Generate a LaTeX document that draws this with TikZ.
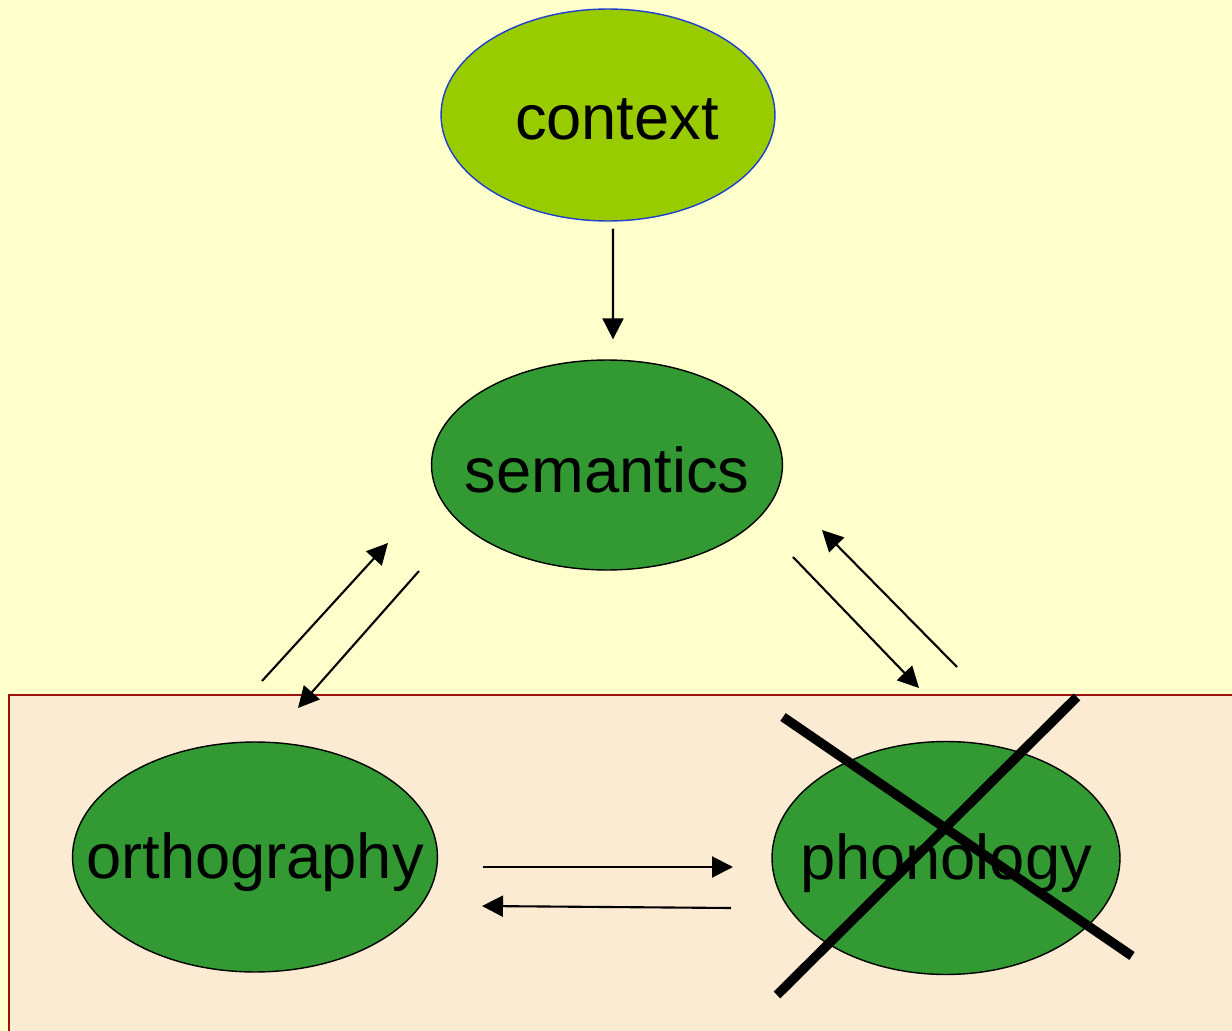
\documentclass[tikz,border=0pt]{standalone}
\usepackage{fontspec}
\setmainfont{Liberation Sans}
\usetikzlibrary{shapes.geometric,arrows.meta}

\definecolor{paleyellow}{HTML}{FFFFCC}
\definecolor{parchment}{HTML}{FAEBD2}
\definecolor{boxred}{HTML}{A01010}
\definecolor{lime}{HTML}{99CC00}
\definecolor{leaf}{HTML}{339933}
\definecolor{rim}{HTML}{1F3FCC}

\begin{document}
\begin{tikzpicture}[
    x=0.02cm, y=-0.02cm,
    blob/.style={ellipse, draw=black, fill=leaf, line width=0.8pt, inner sep=0pt,
      label={[font=\fontsize{36}{40}\selectfont, yshift=-0.1cm]center:#1}},
    arr/.style={line width=1.2pt, -{Triangle[length=0.42cm, width=0.42cm]}},
    cross/.style={line width=5.4pt}
  ]

  % page and lower panel
  \clip (0,0) rectangle (1232,1031);
  \fill[paleyellow] (0,0) rectangle (1232,1031);
  \draw[fill=parchment, draw=boxred, line width=1pt] (9,695) rectangle (1260,1060);

  % nodes
  \node[ellipse, fill=lime, draw=rim, line width=0.8pt, inner sep=0pt, minimum width=6.68cm, minimum height=4.24cm,
    label={[font=\fontsize{36}{40}\selectfont, xshift=0.18cm, yshift=-0.08cm]center:context}] (context) at (608,115) {};
  \node[blob=semantics, minimum width=7.02cm, minimum height=4.2cm] (semantics) at (607,465) {};
  \node[blob=orthography, minimum width=7.3cm, minimum height=4.6cm] (orthography) at (255,857) {};
  \node[blob=phonology, minimum width=6.96cm, minimum height=4.66cm] (phonology) at (946,858) {};

  % free arrow ends
  \coordinate (os1) at (262,681);
  \coordinate (os2) at (388,543);
  \coordinate (so1) at (419,571);
  \coordinate (so2) at (298,708);
  \coordinate (sp1) at (793,557);
  \coordinate (sp2) at (919,688);
  \coordinate (ps1) at (957,667);
  \coordinate (ps2) at (822,530);
  \coordinate (op1) at (483,867);
  \coordinate (op2) at (733,867);
  \coordinate (po1) at (731,908);
  \coordinate (po2) at (482,906);

  % connectors
  \draw[arr, shorten <=0.14cm, shorten >=0.4cm] ([xshift=0.1cm]context.south) -- ([xshift=0.12cm]semantics.north);
  \draw[arr] (os1) -- (os2);
  \draw[arr] (so1) -- (so2);
  \draw[arr] (sp1) -- (sp2);
  \draw[arr] (ps1) -- (ps2);
  \draw[arr] (op1) -- (op2);
  \draw[arr] (po1) -- (po2);

  % phonology struck out
  \draw[cross] (783,717) -- (1132,956);
  \draw[cross] (1077,697) -- (777,995);

\end{tikzpicture}
\end{document}
